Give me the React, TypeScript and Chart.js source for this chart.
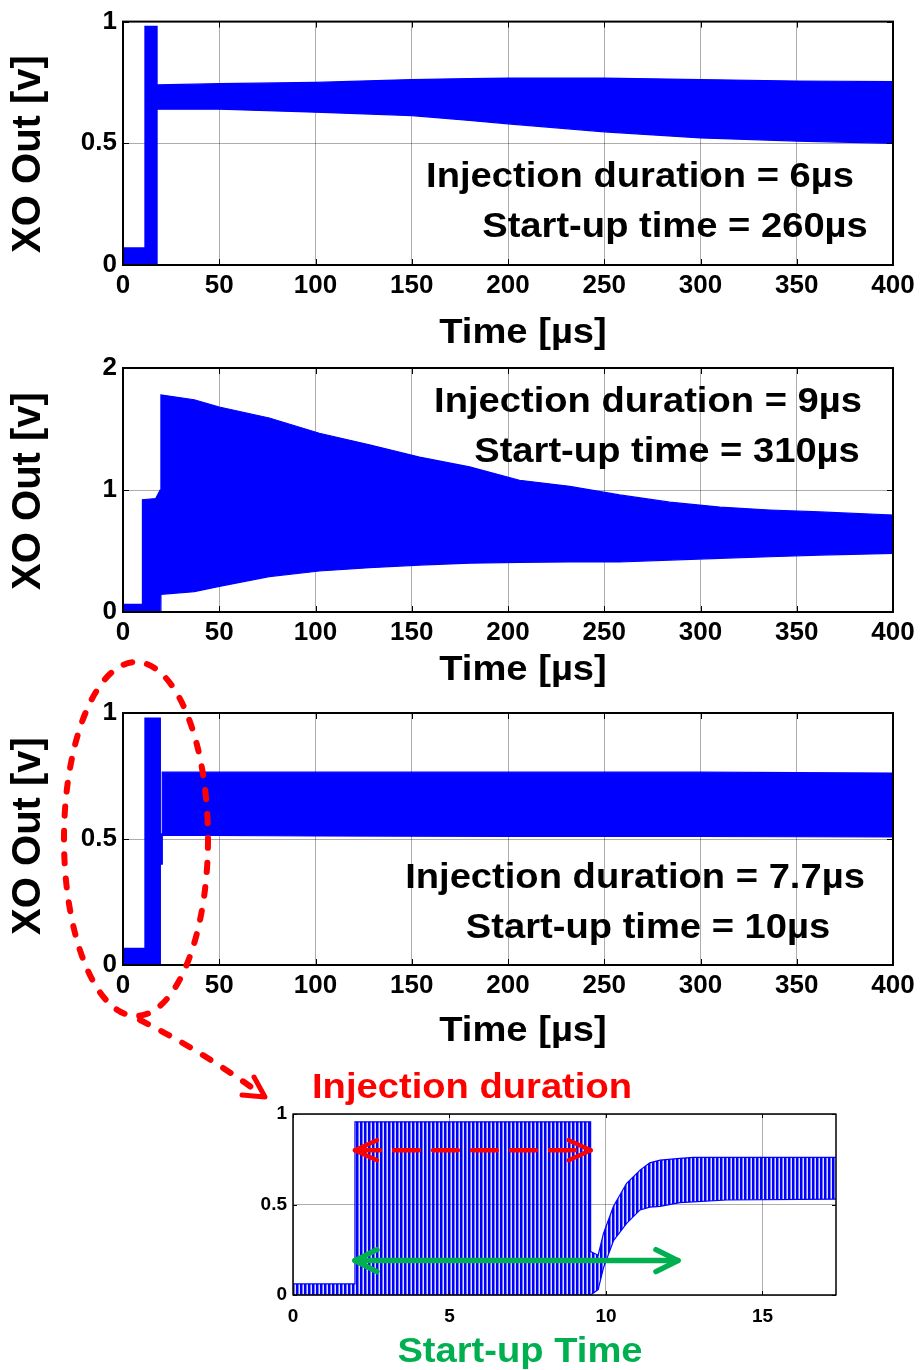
import React, { useEffect, useRef } from 'react';
import { Chart, registerables } from 'chart.js';

Chart.register(...registerables);

const FONT = "'Liberation Sans', Arial, Helvetica, sans-serif";
const BLUE = '#0000ff';
const RED = '#ff0000';
const GREEN = '#00b050';

// ---------- Panel 1 : injection 6 µs ----------
const TIME_1 = [0, 11.4, 11.4, 17.7, 17.7, 50, 100, 150, 180, 200, 250, 300, 350, 400];
const UPPER_1 = [0.07, 0.07, 0.98, 0.98, 0.74, 0.745, 0.75, 0.762, 0.766, 0.768, 0.768, 0.762, 0.756, 0.753];
const LOWER_1 = [0, 0, 0, 0, 0.64, 0.64, 0.628, 0.614, 0.594, 0.58, 0.547, 0.522, 0.509, 0.5];

// ---------- Panel 2 : injection 9 µs ----------
const TIME_2 = [0, 10.1, 10.1, 17, 19.3, 19.7, 19.7, 37, 50, 76, 102, 128, 154, 180, 206, 232, 258, 284, 310, 336, 362, 400];
const UPPER_2 = [0.063, 0.063, 0.92, 0.93, 1.0, 1.0, 1.78, 1.74, 1.68, 1.59, 1.465, 1.37, 1.27, 1.19, 1.08, 1.03, 0.96, 0.9, 0.86, 0.836, 0.82, 0.795];
const LOWER_2 = [0, 0, 0, 0, 0, 0, 0.145, 0.167, 0.21, 0.29, 0.336, 0.363, 0.385, 0.4, 0.407, 0.41, 0.41, 0.426, 0.44, 0.453, 0.467, 0.48];

// ---------- Panel 3 : injection 7.7 µs ----------
const TIME_3 = [0, 11.4, 11.4, 19.4, 19.4, 20.4, 20.4, 100, 200, 300, 400];
const UPPER_3 = [0.066, 0.066, 0.98, 0.98, 0.52, 0.52, 0.765, 0.765, 0.765, 0.765, 0.762];
const LOWER_3 = [0, 0, 0, 0, 0.4, 0.4, 0.515, 0.512, 0.51, 0.51, 0.508];

// ---------- Inset : zoom of panel 3 ----------
const TIME_I = [0, 1.98, 1.98, 9.51, 9.51, 9.75, 9.92, 10.24, 10.66, 11.09, 11.4, 11.73, 12.36, 12.79, 13.85, 17.35];
const UPPER_I = [0.061, 0.061, 0.957, 0.957, 0.24, 0.22, 0.34, 0.49, 0.617, 0.69, 0.73, 0.745, 0.755, 0.76, 0.76, 0.76];
const LOWER_I = [0, 0, 0, 0, 0, 0.03, 0.15, 0.3, 0.396, 0.47, 0.485, 0.49, 0.51, 0.515, 0.525, 0.53];
const INJ_START = 1.98;
const INJ_END = 9.51;
const STARTUP_END = 12.3;
const ARROW_Y_INJ = 0.8;
const ARROW_Y_START = 0.19;

// ---------- Ticks ----------
const MAIN_X_TICKS = [0, 50, 100, 150, 200, 250, 300, 350, 400];
const Y_TICKS_1 = [0, 0.5, 1];
const Y_TICKS_2 = [0, 1, 2];
const Y_TICKS_3 = [0, 0.5, 1];
const INSET_X_TICKS = [0, 5, 10, 15];
const INSET_Y_TICKS = [0, 0.5, 1];

// ---------- Texts ----------
const X_TITLE = 'Time [µs]';
const Y_TITLE = 'XO Out [v]';
const ANNOT_1 = ['Injection duration = 6µs', 'Start-up time = 260µs'];
const ANNOT_2 = ['Injection duration = 9µs', 'Start-up time = 310µs'];
const ANNOT_3 = ['Injection duration = 7.7µs', 'Start-up time = 10µs'];
const INSET_TOP_LABEL = 'Injection duration';
const INSET_BOTTOM_LABEL = 'Start-up Time';

type TextItem = { text: string; x: number; y: number; size: number; color?: string; sx?: number; rotate?: boolean };

const decorPlugin = {
  id: 'decor',
  afterDatasetsDraw(chart: any, _args: any, opts: any) {
    const { ctx, chartArea: a, scales } = chart;
    const xs = scales.x;
    const ys = scales.y;
    ctx.save();
    // inner tick marks (MATLAB style)
    const L = opts.tickLen || 0;
    ctx.strokeStyle = '#000';
    ctx.lineWidth = 1;
    ctx.beginPath();
    xs.ticks.forEach((t: any) => {
      const px = Math.round(xs.getPixelForValue(t.value)) + 0.5;
      ctx.moveTo(px, a.bottom);
      ctx.lineTo(px, a.bottom - L);
      ctx.moveTo(px, a.top);
      ctx.lineTo(px, a.top + L);
    });
    ys.ticks.forEach((t: any) => {
      const py = Math.round(ys.getPixelForValue(t.value)) + 0.5;
      ctx.moveTo(a.left, py);
      ctx.lineTo(a.left + L, py);
      ctx.moveTo(a.right, py);
      ctx.lineTo(a.right - L, py);
    });
    ctx.stroke();

    // double arrows (data coordinates)
    (opts.arrows || []).forEach((ar: any) => {
      const x0 = xs.getPixelForValue(ar.x0);
      const x1 = xs.getPixelForValue(ar.x1);
      const y = ys.getPixelForValue(ar.y);
      ctx.strokeStyle = ar.color;
      ctx.lineWidth = ar.width;
      ctx.lineCap = 'round';
      ctx.lineJoin = 'round';
      ctx.setLineDash(ar.dash || []);
      ctx.beginPath();
      ctx.moveTo(x0, y);
      ctx.lineTo(x1, y);
      ctx.stroke();
      ctx.setLineDash([]);
      ctx.beginPath();
      ctx.moveTo(x0 + ar.hx, y - ar.hy);
      ctx.lineTo(x0, y);
      ctx.lineTo(x0 + ar.hx, y + ar.hy);
      ctx.moveTo(x1 - ar.hx, y - ar.hy);
      ctx.lineTo(x1, y);
      ctx.lineTo(x1 - ar.hx, y + ar.hy);
      ctx.stroke();
    });

    // box
    ctx.lineCap = 'butt';
    ctx.strokeStyle = '#000';
    ctx.lineWidth = opts.boxWidth || 2;
    ctx.strokeRect(a.left, a.top, a.right - a.left, a.bottom - a.top);

    // texts
    (opts.texts || []).forEach((t: TextItem) => {
      ctx.save();
      ctx.font = `bold ${t.size}px ${FONT}`;
      ctx.fillStyle = t.color || '#000';
      ctx.textAlign = 'center';
      ctx.translate(t.x, t.y);
      if (t.rotate) {
        ctx.rotate(-Math.PI / 2);
        ctx.textBaseline = 'middle';
      } else {
        ctx.textBaseline = 'alphabetic';
      }
      ctx.scale(t.sx || 1, 1);
      ctx.fillText(t.text, 0, 0);
      ctx.restore();
    });
    ctx.restore();
  },
};

type Panel = {
  top: number;
  height: number;
  plot: { l: number; t: number; r: number; b: number };
  xMax: number;
  yMax: number;
  xTicks: number[];
  yTicks: number[];
  time: number[];
  upper: number[];
  lower: number[];
  tickFont: number;
  padX: number;
  padY: number;
  boxWidth: number;
  tickLen: number;
  texts: TextItem[];
  arrows?: any[];
  striped?: boolean;
};

const W = 920;

const mainTexts = (annot: string[], pos: number[][], yTitleY: number, xTitleY: number): TextItem[] => [
  { text: annot[0], x: pos[0][0], y: pos[0][1], size: 35, sx: 1.09 },
  { text: annot[1], x: pos[1][0], y: pos[1][1], size: 35, sx: 1.09 },
  { text: X_TITLE, x: 523, y: xTitleY, size: 35, sx: 1.09 },
  { text: Y_TITLE, x: 29, y: yTitleY, size: 40, rotate: true },
];

const PANELS: Panel[] = [
  {
    top: 0, height: 360, plot: { l: 123, t: 18, r: 893, b: 265 },
    xMax: 400, yMax: 1, xTicks: MAIN_X_TICKS, yTicks: Y_TICKS_1,
    time: TIME_1, upper: UPPER_1, lower: LOWER_1,
    tickFont: 26, padX: 5, padY: 6, boxWidth: 2, tickLen: 6,
    texts: mainTexts(ANNOT_1, [[640, 187], [675, 237]], 154, 343),
  },
  {
    top: 340, height: 360, plot: { l: 123, t: 28, r: 893, b: 272 },
    xMax: 400, yMax: 2, xTicks: MAIN_X_TICKS, yTicks: Y_TICKS_2,
    time: TIME_2, upper: UPPER_2, lower: LOWER_2,
    tickFont: 26, padX: 5, padY: 6, boxWidth: 2, tickLen: 6,
    texts: mainTexts(ANNOT_2, [[648, 72], [667, 122]], 151, 340),
  },
  {
    top: 685, height: 370, plot: { l: 123, t: 28, r: 893, b: 280 },
    xMax: 400, yMax: 1, xTicks: MAIN_X_TICKS, yTicks: Y_TICKS_3,
    time: TIME_3, upper: UPPER_3, lower: LOWER_3,
    tickFont: 26, padX: 5, padY: 6, boxWidth: 2, tickLen: 6,
    texts: mainTexts(ANNOT_3, [[635, 203], [648, 253]], 151, 356),
  },
  {
    top: 1050, height: 320, plot: { l: 293, t: 64, r: 836, b: 245 },
    xMax: 17.35, yMax: 1, xTicks: INSET_X_TICKS, yTicks: INSET_Y_TICKS,
    time: TIME_I, upper: UPPER_I, lower: LOWER_I,
    tickFont: 19, padX: 10, padY: 6, boxWidth: 1.5, tickLen: 4,
    striped: true,
    texts: [
      { text: INSET_TOP_LABEL, x: 472, y: 48, size: 35, sx: 1.09, color: RED },
      { text: INSET_BOTTOM_LABEL, x: 520, y: 312, size: 35, sx: 1.09, color: GREEN },
    ],
    arrows: [
      { x0: INJ_START, x1: INJ_END, y: ARROW_Y_INJ, color: RED, width: 4.5, dash: [25, 14], hx: 22, hy: 10 },
      { x0: INJ_START, x1: STARTUP_END, y: ARROW_Y_START, color: GREEN, width: 5.5, hx: 22, hy: 11 },
    ],
  },
];

function makeChart(canvas: HTMLCanvasElement, p: Panel): Chart {
  const ctx = canvas.getContext('2d') as CanvasRenderingContext2D;
  let fill: any = BLUE;
  if (p.striped) {
    const pc = document.createElement('canvas');
    pc.width = 4;
    pc.height = 4;
    const pctx = pc.getContext('2d') as CanvasRenderingContext2D;
    pctx.fillStyle = BLUE;
    pctx.fillRect(0, 0, 2, 4);
    pctx.fillStyle = 'rgba(0,0,255,0.55)';
    pctx.fillRect(2, 0, 1, 4);
    pctx.fillStyle = 'rgba(0,0,255,0.12)';
    pctx.fillRect(3, 0, 1, 4);
    fill = ctx.createPattern(pc, 'repeat');
  }
  const pts = (vals: number[]) => p.time.map((x, i) => ({ x, y: vals[i] }));
  const tickFont = { family: FONT, size: p.tickFont, weight: 'bold' as const };
  const fmt = (v: any) => String(Math.round(Number(v) * 100) / 100);
  return new Chart(ctx, {
    type: 'line',
    data: {
      datasets: [
        {
          data: pts(p.upper),
          borderColor: BLUE,
          borderWidth: 1.2,
          backgroundColor: fill,
          fill: '+1',
          pointRadius: 0,
          tension: 0,
        },
        {
          data: pts(p.lower),
          borderColor: BLUE,
          borderWidth: 1.2,
          fill: false,
          pointRadius: 0,
          tension: 0,
        },
      ],
    },
    options: {
      responsive: false,
      maintainAspectRatio: false,
      animation: false,
      devicePixelRatio: 1,
      events: [],
      layout: { padding: { left: 0, top: p.plot.t, right: W - p.plot.r, bottom: 0 } },
      plugins: {
        legend: { display: false },
        tooltip: { enabled: false },
        decor: { texts: p.texts, arrows: p.arrows || [], boxWidth: p.boxWidth, tickLen: p.tickLen },
      } as any,
      scales: {
        x: {
          type: 'linear',
          min: 0,
          max: p.xMax,
          afterBuildTicks: (s: any) => {
            s.ticks = p.xTicks.map((v) => ({ value: v }));
          },
          afterFit: (s: any) => {
            s.height = p.height - p.plot.b;
          },
          ticks: { font: tickFont, color: '#000', padding: p.padX, maxRotation: 0, autoSkip: false, callback: fmt },
          grid: { color: 'rgba(0,0,0,0.32)', lineWidth: 1, drawTicks: false },
          border: { display: false },
        },
        y: {
          type: 'linear',
          min: 0,
          max: p.yMax,
          afterBuildTicks: (s: any) => {
            s.ticks = p.yTicks.map((v) => ({ value: v }));
          },
          afterFit: (s: any) => {
            s.width = p.plot.l;
          },
          ticks: { font: tickFont, color: '#000', padding: p.padY, autoSkip: false, callback: fmt },
          grid: { color: 'rgba(0,0,0,0.32)', lineWidth: 1, drawTicks: false },
          border: { display: false },
        },
      },
    },
    plugins: [decorPlugin as any],
  });
}

export default function App() {
  const refs = useRef<(HTMLCanvasElement | null)[]>([]);

  useEffect(() => {
    const charts: Chart[] = [];
    PANELS.forEach((p, i) => {
      const c = refs.current[i];
      if (c) charts.push(makeChart(c, p));
    });
    return () => charts.forEach((c) => c.destroy());
  }, []);

  return (
    <div style={{ position: 'absolute', left: 0, top: 0, width: W, height: 1370, background: '#fff', overflow: 'hidden' }}>
      {PANELS.map((p, i) => (
        <canvas
          key={i}
          ref={(el) => {
            refs.current[i] = el;
          }}
          width={W}
          height={p.height}
          style={{ position: 'absolute', left: 0, top: p.top, width: W, height: p.height, display: 'block' }}
        />
      ))}
      <svg
        width={W}
        height={1370}
        style={{ position: 'absolute', left: 0, top: 0, pointerEvents: 'none' }}
      >
        <ellipse
          cx={136}
          cy={839}
          rx={72}
          ry={177}
          fill="none"
          stroke={RED}
          strokeWidth={6}
          strokeDasharray="9 15"
          strokeLinecap="round"
        />
        <path
          d="M 140 1020 Q 200 1050 258 1092"
          fill="none"
          stroke={RED}
          strokeWidth={6}
          strokeDasharray="9 15"
          strokeLinecap="round"
        />
        <path
          d="M 242 1095 L 265 1097 L 254 1077"
          fill="none"
          stroke={RED}
          strokeWidth={5}
          strokeLinecap="round"
          strokeLinejoin="round"
        />
      </svg>
    </div>
  );
}
